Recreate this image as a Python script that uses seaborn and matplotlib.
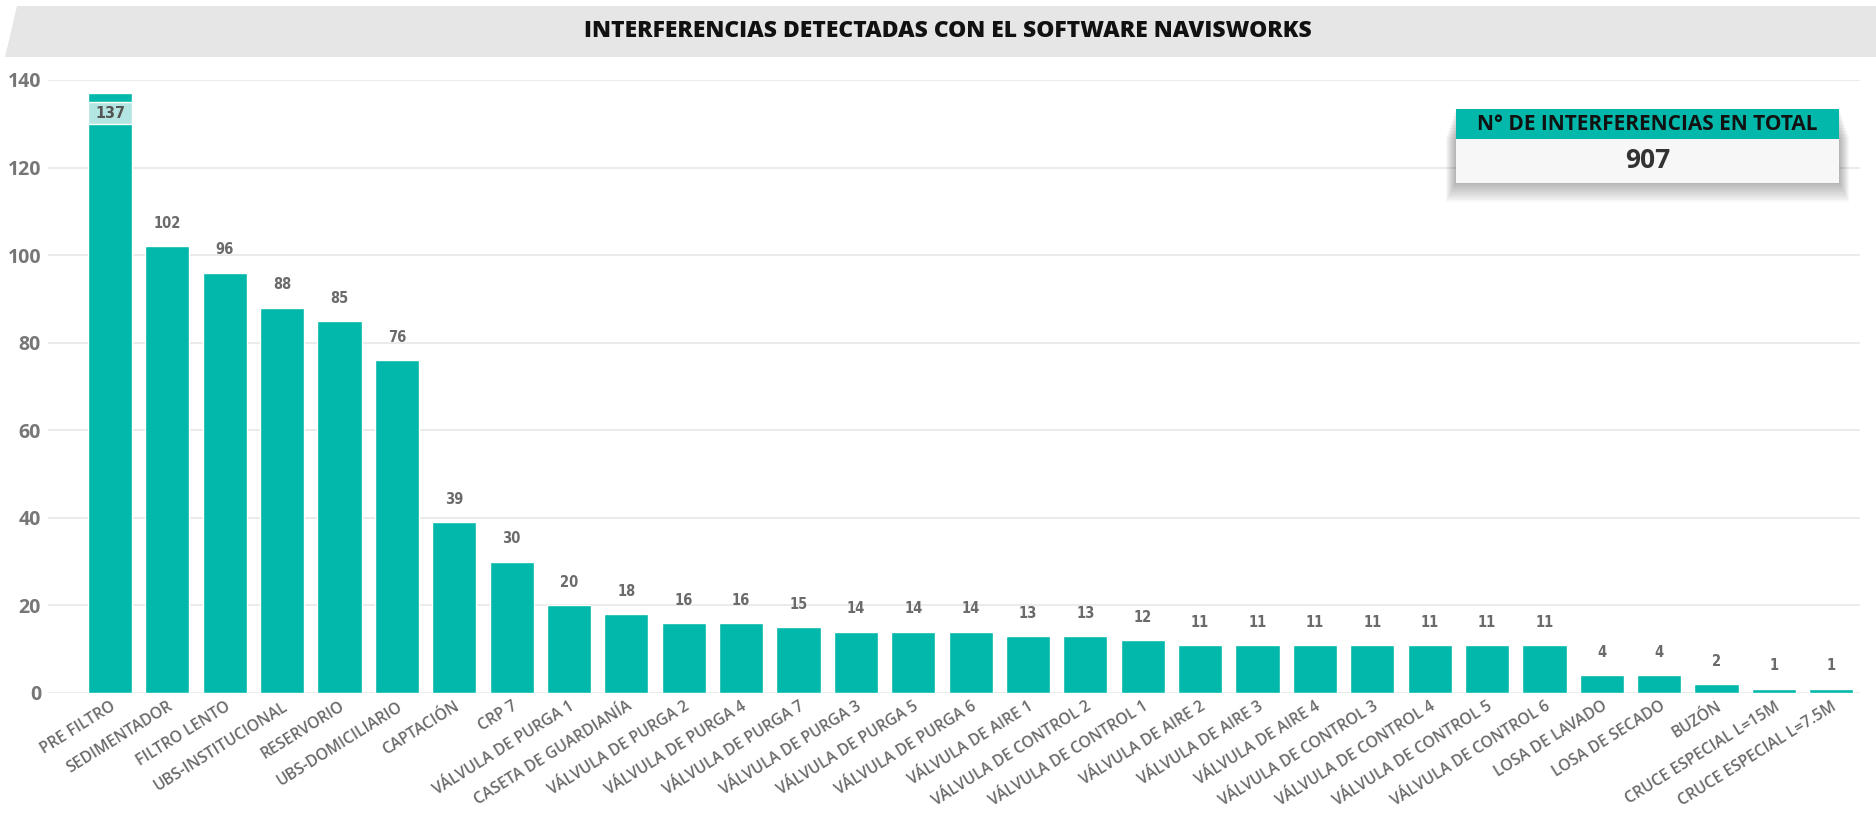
import matplotlib
matplotlib.use("Agg")
import matplotlib.pyplot as plt
import seaborn as sns
import pandas as pd
import numpy as np
from matplotlib.patches import Polygon, Rectangle

categories = [
    "PRE FILTRO", "SEDIMENTADOR", "FILTRO LENTO", "UBS-INSTITUCIONAL", "RESERVORIO",
    "UBS-DOMICILIARIO", "CAPTACIÓN", "CRP 7", "VÁLVULA DE PURGA 1", "CASETA DE GUARDIANÍA",
    "VÁLVULA DE PURGA 2", "VÁLVULA DE PURGA 4", "VÁLVULA DE PURGA 7", "VÁLVULA DE PURGA 3",
    "VÁLVULA DE PURGA 5", "VÁLVULA DE PURGA 6", "VÁLVULA DE AIRE 1", "VÁLVULA DE CONTROL 2",
    "VÁLVULA DE CONTROL 1", "VÁLVULA DE AIRE 2", "VÁLVULA DE AIRE 3", "VÁLVULA DE AIRE 4",
    "VÁLVULA DE CONTROL 3", "VÁLVULA DE CONTROL 4", "VÁLVULA DE CONTROL 5",
    "VÁLVULA DE CONTROL 6", "LOSA DE LAVADO", "LOSA DE SECADO", "BUZÓN",
    "CRUCE ESPECIAL L=15M", "CRUCE ESPECIAL L=7.5M",
]
values = [137, 102, 96, 88, 85, 76, 39, 30, 20, 18, 16, 16, 15, 14, 14, 14, 13, 13, 12,
          11, 11, 11, 11, 11, 11, 11, 4, 4, 2, 1, 1]
y_ticks = [0, 20, 40, 60, 80, 100, 120, 140]
title = "INTERFERENCIAS DETECTADAS CON EL SOFTWARE NAVISWORKS"
card_title = "N° DE INTERFERENCIAS EN TOTAL"
card_value = sum(values)

TEAL = "#01B8AA"
W, H = 1876, 814

sns.set_theme(style="white")
plt.rcParams["font.family"] = ["Open Sans", "DejaVu Sans"]

df = pd.DataFrame({"cat": categories, "val": values})

fig = plt.figure(figsize=(W / 100, H / 100), dpi=100)
ax = fig.add_axes([48 / W, (H - 693) / H, (1860 - 48) / W, (693 - 80) / H])

sns.barplot(data=df, x="cat", y="val", color=TEAL, saturation=1, width=0.77, ax=ax, zorder=3)

ax.set_xlim(-1.08, len(categories) - 0.5)
ax.set_ylim(0, 140)
ax.set_yticks(y_ticks)
ax.grid(axis="y", color="#e8e8e8", linewidth=1.2, zorder=0)
ax.grid(axis="x", visible=False)
for s in ax.spines.values():
    s.set_visible(False)
ax.set_xlabel("")
ax.set_ylabel("")
ax.tick_params(axis="y", length=0, pad=5, labelsize=14, labelcolor="#777777")
for t in ax.get_yticklabels():
    t.set_fontweight("bold")
ax.tick_params(axis="x", length=0, pad=4)
ax.set_xticks(range(len(categories)))
ax.set_xticklabels(categories, rotation=32, ha="right", va="top", rotation_mode="anchor",
                   fontsize=11.3, color="#6a6a6a", fontweight="semibold")

# value labels
for i, v in enumerate(values):
    if i == 0:
        # inside-end label with light box
        ax.bar(i, 5, bottom=v - 7.1, width=0.77, color="#b3e6e2", zorder=4)
        ax.annotate(str(v), (i, v - 4.7), ha="center", va="center", fontsize=11.5,
                    color="#555555", fontweight="bold", fontstretch="condensed",
                    family=["DejaVu Sans"], zorder=5)
    else:
        ax.annotate(str(v), (i, v), xytext=(0, 11), textcoords="offset points",
                    ha="center", va="bottom", fontsize=10.5, color="#6b6b6b",
                    fontweight="bold", fontstretch="condensed", family=["DejaVu Sans"])

# title bar
poly = Polygon([[5 / W, 1 - 57 / H], [17 / W, 1 - 6 / H], [1.0, 1 - 6 / H], [1.0, 1 - 57 / H]],
               closed=True, transform=fig.transFigure, facecolor="#e6e6e6", edgecolor="none",
               zorder=0)
fig.patches.append(poly)
fig.text(948 / W, 1 - 31 / H, title, ha="center", va="center", fontsize=16.5,
         fontweight="heavy", color="#111111")

# total card
x0, x1 = 1456, 1839
yh0, yh1, yb1 = 109, 139, 183
for k in range(10):
    off = 1 + k * 2
    fig.patches.append(Rectangle(((x0 - 1 - k) / W, 1 - (yb1 + off) / H),
                                 (x1 - x0 + 2 + 2 * k) / W, (yb1 - yh0 - k) / H,
                                 transform=fig.transFigure, facecolor="#000000",
                                 alpha=0.03, edgecolor="none", zorder=5))
fig.patches.append(Rectangle((x0 / W, 1 - yb1 / H), (x1 - x0) / W, (yb1 - yh1) / H,
                             transform=fig.transFigure, facecolor="#f7f7f7",
                             edgecolor="none", zorder=6))
fig.patches.append(Rectangle((x0 / W, 1 - yh1 / H), (x1 - x0) / W, (yh1 - yh0) / H,
                             transform=fig.transFigure, facecolor=TEAL,
                             edgecolor="none", zorder=6))
fig.text((x0 + x1) / 2 / W, 1 - (yh0 + yh1) / 2 / H, card_title, ha="center", va="center",
         fontsize=15, fontweight="bold", color="#111111", zorder=7)
fig.text((x0 + x1) / 2 / W, 1 - 160 / H, f"{card_value}", ha="center", va="center",
         fontsize=19, fontweight="bold", color="#333333", zorder=7)

fig.savefig("out.png", dpi=100, facecolor="white")
